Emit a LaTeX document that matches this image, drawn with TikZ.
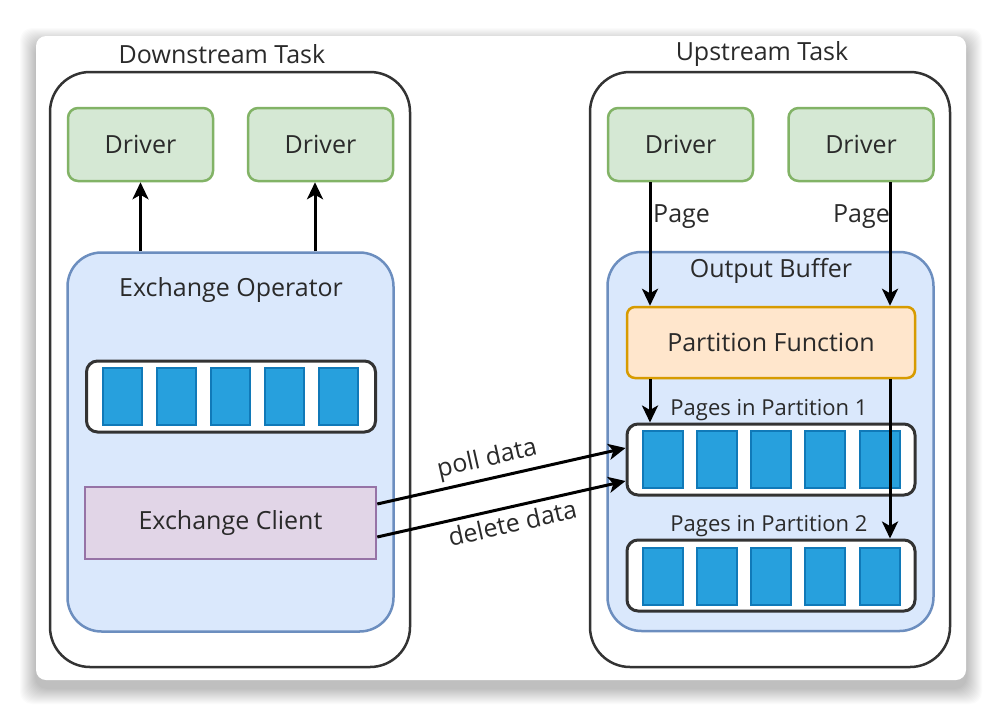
\documentclass[tikz,border=0pt]{standalone}
\usepackage{fontspec}
\setmainfont{Open Sans}
\usetikzlibrary{arrows.meta}
\definecolor{txt}{HTML}{2A2A2A}
\definecolor{drvfill}{HTML}{D5E8D4}
\definecolor{drvline}{HTML}{82B366}
\definecolor{opfill}{HTML}{DAE8FC}
\definecolor{opline}{HTML}{6C8EBF}
\definecolor{pffill}{HTML}{FFE6CC}
\definecolor{pfline}{HTML}{D79B00}
\definecolor{clfill}{HTML}{E1D5E7}
\definecolor{clline}{HTML}{9673A6}
\definecolor{pgfill}{HTML}{27A0DD}
\definecolor{pgline}{HTML}{1079B8}
\definecolor{frame}{HTML}{333333}
\tikzset{
  every node/.style={text=txt, font=\fontsize{25}{29}\selectfont},
  task/.style={draw=frame, line width=2.5pt, rounded corners=40pt, fill=white, minimum width=360pt, minimum height=595pt},
  driver/.style={draw=drvline, fill=drvfill, line width=2.5pt, rounded corners=10pt, minimum width=145pt, minimum height=73pt},
  opbox/.style={draw=opline, fill=opfill, line width=2.5pt, rounded corners=34pt, minimum width=326pt, minimum height=379pt},
  queue/.style={draw=frame, fill=white, line width=3pt, rounded corners=11pt, minimum width=289pt, minimum height=71pt},
  pagebox/.style={draw=pgline, fill=pgfill, line width=2pt, minimum width=39pt, minimum height=57pt, inner sep=0pt},
  pfbox/.style={draw=pfline, fill=pffill, line width=2.5pt, rounded corners=8pt, minimum width=288pt, minimum height=71pt},
  client/.style={draw=clline, fill=clfill, line width=2.5pt, minimum width=291pt, minimum height=72pt},
  small/.style={font=\fontsize{22}{26}\selectfont},
  mid/.style={font=\fontsize{25}{29}\selectfont},
  arr/.style={-{Stealth[length=17pt,width=16pt,inset=4.5pt]}, line width=3pt, black},
}
\begin{document}
\begin{tikzpicture}[x=1pt,y=-1pt]
\useasboundingbox (0,0) rectangle (1002,716);
\fill[white] (0,0) rectangle (1002,716);
% shadow
\foreach \i in {1,...,16}{
  \fill[black, opacity=0.014, rounded corners=12pt] (36-\i,36-\i+8) rectangle (966+\i,680+\i+8);
}
\fill[white, rounded corners=10pt] (36,36) rectangle (966,680);

% task frames
\node[task] (dtask) at (230,369.5) {};
\node[task] (utask) at (770,369.5) {};
\node (dtitle) at (222,54) {Downstream Task};
\node (utitle) at (762,54) {Upstream Task};

% drivers
\node[driver] (ld1) at (140.5,144.5) {Driver};
\node[driver] (ld2) at (320.5,144.5) {Driver};
\node[driver] (rd1) at (680.5,144.5) {Driver};
\node[driver] (rd2) at (861,144.5) {Driver};

% exchange operator
\node[opbox] (eo) at (230.5,442) {};
\node (eotitle) at (231,290) {Exchange Operator};
\node[queue] (lq) at (231,396.5) {};
\foreach \x [count=\k] in {122.5,176.5,230.5,284.5,338.5}{
  \node[pagebox] (lp\k) at (\x,396.5) {};
}
\node[client] (client) at (230.5,523) {Exchange Client};

% output buffer
\node[opbox] (ob) at (770.5,441.5) {};
\node (obtitle) at (771,271) {Output Buffer};
\node[pfbox] (pf) at (771,342.5) {Partition Function};
\node[small] (p1lab) at (769,410) {Pages in Partition 1};
\node[queue, minimum width=288pt] (p1) at (771,459.5) {};
\node[small] (p2lab) at (769,526) {Pages in Partition 2};
\node[queue, minimum width=288pt] (p2) at (771,575.5) {};
\foreach \x [count=\k] in {663,717,771,825,879.5}{
  \node[pagebox, minimum width=40pt] (pa\k) at (\x,459.5) {};
  \node[pagebox, minimum width=40pt] (pb\k) at (\x,576.5) {};
}

% arrows downstream
\draw[arr] (eo.north -| ld1.south) -- (ld1.south);
\coordinate (xr) at (315,0);
\draw[arr] (eo.north -| xr) -- (ld2.south -| xr);

% arrows upstream
\coordinate (xa) at (650,0);
\coordinate (xb) at (890,0);
\draw[arr] (rd1.south -| xa) -- (pf.north -| xa);
\draw[arr] (rd2.south -| xb) -- (pf.north -| xb);
\node[mid, anchor=west, inner sep=0pt] (pg1) at (653,217) {Page};
\node[mid, anchor=east, inner sep=0pt] (pg2) at (890,217) {Page};
\draw[arr] (pf.south -| xa) -- (p1.north -| xa);
\draw[arr] (pf.south -| xb) -- (p2.north -| xb);

% poll / delete
\draw[arr] ([yshift=19pt]client.east) -- node[mid, sloped, above, pos=0.46, inner sep=5pt] {poll data} ([yshift=11.5pt]p1.west);
\draw[arr] ([yshift=-14pt]client.east) -- node[mid, sloped, below, pos=0.53, inner sep=5pt] {delete data} ([yshift=-21.5pt]p1.west);
\end{tikzpicture}
\end{document}
